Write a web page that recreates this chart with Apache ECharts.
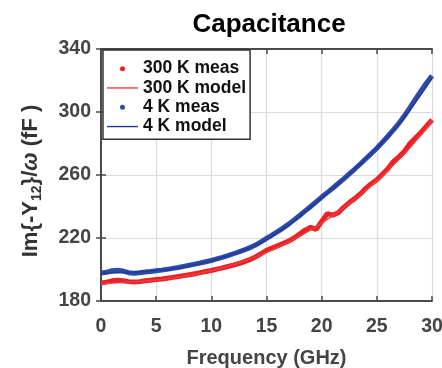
<!DOCTYPE html>
<html>
<head>
<meta charset="utf-8">
<script src="https://cdn.jsdelivr.net/npm/echarts@6/dist/echarts.min.js"></script>
<style>html,body{margin:0;padding:0;background:#fff}#c{width:442px;height:368px}</style>
</head>
<body>
<div id="c"></div>
<script>
// Frequency (GHz) grid of the measured curves (0.5 GHz step) and model curves (1 GHz step)
const freqMeas = [0,0.5,1,1.5,2,2.5,3,3.5,4,4.5,5,5.5,6,6.5,7,7.5,8,8.5,9,9.5,10,10.5,11,11.5,12,12.5,13,13.5,14,14.5,15,15.5,16,16.5,17,17.5,18,18.5,19,19.5,20,20.5,21,21.5,22,22.5,23,23.5,24,24.5,25,25.5,26,26.5,27,27.5,28,28.5,29,29.5,30];
const freqModel = [0,1,2,3,4,5,6,7,8,9,10,11,12,13,14,15,16,17,18,19,20,21,22,23,24,25,26,27,28,29,30];

// 300 K measured (fF)
const meas300 = [191.5,192.0,192.8,193.2,192.8,192.3,192.0,192.3,192.8,193.2,193.6,194.0,194.5,195.0,195.5,196.1,196.7,197.3,198.0,198.7,199.4,200.2,201.0,201.9,202.8,203.8,205.0,206.3,208.0,210.0,212.2,213.6,215.0,216.5,218.0,220.0,222.5,225.0,226.8,225.5,230.5,235.5,234.5,236.0,239.5,242.5,245.0,248.0,251.5,254.5,257.0,260.5,264.0,268.5,271.5,275.0,280.0,283.5,287.0,291.0,295.0];
// 300 K model (fF)
const model300 = [191.0,191.4,191.8,192.2,192.7,193.3,194.1,195.1,196.3,197.7,199.3,201.1,203.1,205.4,208.0,210.9,214.0,217.4,221.1,225.1,229.5,234.2,239.2,244.6,250.3,256.4,262.9,269.8,277.3,285.5,294.5];
// 4 K measured (fF)
const meas4 = [197.8,198.2,199.2,199.6,199.0,198.0,197.6,197.9,198.4,198.7,199.2,199.6,200.1,200.7,201.3,202.0,202.7,203.4,204.1,204.9,205.7,206.7,207.7,208.8,210.0,211.2,212.5,213.9,215.5,217.6,219.8,221.8,224.0,226.3,228.8,231.5,234.3,237.2,240.0,243.0,246.0,248.8,251.6,254.6,257.6,260.7,263.8,267.0,270.3,273.6,277.0,280.8,284.6,288.6,292.8,297.6,302.8,308.2,313.4,318.4,323.0];
// 4 K model (fF)
const model4 = [197.4,197.7,198.1,198.4,198.8,199.3,200.0,201.0,202.3,203.8,205.6,207.6,209.8,212.4,215.3,219.0,223.4,228.2,233.6,239.4,245.5,251.4,257.5,263.8,270.3,277.0,284.4,292.4,301.5,311.0,321.5];

const xTicks = {min: 0, max: 30, interval: 5};
const yTicks = {min: 180, max: 340, interval: 40};

const names = ['300 K meas', '300 K model', '4 K meas', '4 K model'];
const RED = '#ee1f26', RED_M = '#e3413b', BLUE = '#2d4ca8', BLUE_M = '#22399a';

const pair = (xs, ys) => xs.map((x, i) => [x, ys[i]]);

const FONT = 'Liberation Sans';
const AX = '#4a4a4a';
const LINE_ICON = 'path://M0,0 L31,0 L31,1.4 L0,1.4 Z';

const chart = echarts.init(document.getElementById('c'), null, {renderer: 'canvas'});
chart.setOption({
  animation: false,
  backgroundColor: '#fff',
  title: {
    text: 'Capacitance', left: 264, top: 7, textAlign: 'center',
    textStyle: {fontFamily: FONT, fontWeight: 'bold', fontSize: 26, color: '#000'}
  },
  grid: {left: 101, right: 10, top: 49, bottom: 67, containLabel: false, outerBoundsMode: 'none'},
  legend: {
    orient: 'vertical', left: 103, top: 50,
    padding: [9, 4, 3, 4],
    itemGap: 0, itemWidth: 31, itemHeight: 5,
    backgroundColor: '#fff', borderColor: '#333', borderWidth: 1.5,
    textStyle: {fontFamily: FONT, fontWeight: 'bold', fontSize: 17.5, color: '#111', lineHeight: 19.3},
    data: [
      {name: names[0], icon: 'circle'},
      {name: names[1], icon: LINE_ICON},
      {name: names[2], icon: 'circle'},
      {name: names[3], icon: LINE_ICON}
    ]
  },
  xAxis: [{
    type: 'value', min: xTicks.min, max: xTicks.max, interval: xTicks.interval,
    name: 'Frequency (GHz)', nameLocation: 'middle', nameGap: 47,
    nameTextStyle: {fontFamily: FONT, fontWeight: 'bold', fontSize: 20, color: '#444'},
    axisLine: {show: true, lineStyle: {color: AX, width: 2}},
    axisTick: {show: true, inside: true, length: 5, lineStyle: {color: AX, width: 1.5}},
    axisLabel: {margin: 16, fontFamily: FONT, fontWeight: 'bold', fontSize: 19.5, color: '#444'},
    splitLine: {show: true, lineStyle: {color: '#dadada', width: 1.2}}
  }, {
    type: 'value', position: 'top', min: xTicks.min, max: xTicks.max, interval: xTicks.interval,
    axisLine: {show: true, lineStyle: {color: AX, width: 2}},
    axisTick: {show: true, inside: true, length: 5, lineStyle: {color: AX, width: 1.5}},
    axisLabel: {show: false}, splitLine: {show: false}
  }],
  yAxis: [{
    type: 'value', min: yTicks.min, max: yTicks.max, interval: yTicks.interval,
    name: 'Im{-Y{s|12}}/{w|ω} (fF )', nameLocation: 'middle', nameGap: 57, nameRotate: 90,
    nameTextStyle: {
      fontFamily: FONT, fontWeight: 'bold', fontSize: 22, color: '#333', lineHeight: 26,
      padding: [0, 12, 0, 0],
      rich: {
        s: {fontFamily: FONT, fontWeight: 'bold', fontSize: 14, color: '#333', lineHeight: 14, verticalAlign: 'bottom'},
        w: {fontFamily: FONT, fontWeight: 'bold', fontStyle: 'italic', fontSize: 22, color: '#333', lineHeight: 26}
      }
    },
    axisLine: {show: true, lineStyle: {color: AX, width: 2}},
    axisTick: {show: true, inside: true, length: 5, lineStyle: {color: AX, width: 1.5}},
    axisLabel: {margin: 10, fontFamily: FONT, fontWeight: 'bold', fontSize: 19.5, color: '#444'},
    splitLine: {show: true, lineStyle: {color: '#dadada', width: 1.2}}
  }, {
    type: 'value', position: 'right', min: yTicks.min, max: yTicks.max, interval: yTicks.interval,
    axisLine: {show: true, lineStyle: {color: AX, width: 2}},
    axisTick: {show: true, inside: true, length: 5, lineStyle: {color: AX, width: 1.5}},
    axisLabel: {show: false}, splitLine: {show: false}
  }],
  series: [
    {name: names[0], type: 'line', data: pair(freqMeas, meas300), symbol: 'none', color: RED,
     lineStyle: {width: 5, color: RED}, z: 2},
    {name: names[1], type: 'line', data: pair(freqModel, model300), symbol: 'none', smooth: 0.3, color: RED_M,
     lineStyle: {width: 1.5, color: RED_M}, z: 3},
    {name: names[2], type: 'line', data: pair(freqMeas, meas4), symbol: 'none', color: BLUE,
     lineStyle: {width: 5, color: BLUE}, z: 2},
    {name: names[3], type: 'line', data: pair(freqModel, model4), symbol: 'none', smooth: 0.3, color: BLUE_M,
     lineStyle: {width: 1.5, color: BLUE_M}, z: 3}
  ]
});
</script>
</body>
</html>
